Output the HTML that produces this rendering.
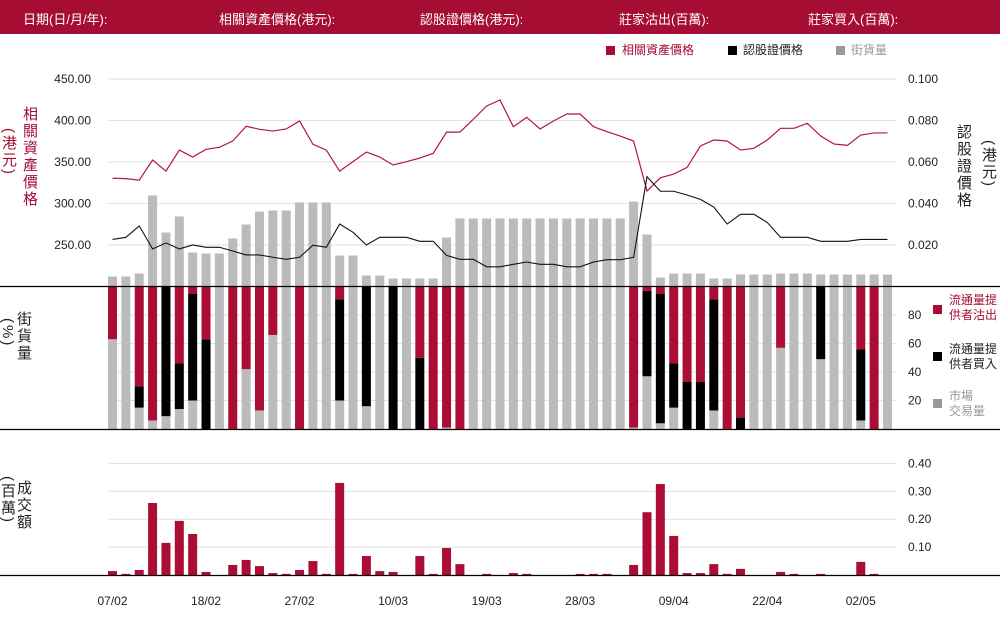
<!DOCTYPE html>
<html><head><meta charset="utf-8">
<style>
html,body{margin:0;padding:0;background:#fff;}
#wrap{position:relative;width:1000px;height:620px;overflow:hidden;font-family:"Liberation Sans","Noto Sans CJK TC",sans-serif;}
.hdr{position:absolute;left:0;top:0;width:1000px;height:34px;background:#a50d33;}
.ht{position:absolute;top:9px;color:#fff;font-size:13px;white-space:nowrap;}
.vt{position:absolute;writing-mode:vertical-rl;font-size:15px;line-height:18px;letter-spacing:2px;}
.lg{position:absolute;font-size:12px;line-height:15px;}
.sq{position:absolute;width:9px;height:9px;}
svg{position:absolute;left:0;top:0;}
</style></head>
<body>
<div id="wrap">
<div class="hdr">
<span class="ht" style="left:23px">日期(日/月/年):</span>
<span class="ht" style="left:219px">相關資產價格(港元):</span>
<span class="ht" style="left:420px">認股證價格(港元):</span>
<span class="ht" style="left:619px">莊家沽出(百萬):</span>
<span class="ht" style="left:808px">莊家買入(百萬):</span>
</div>
<div class="sq" style="left:606px;top:46px;background:#a50d33"></div>
<div class="lg" style="left:622px;top:43px;color:#a50d33">相關資產價格</div>
<div class="sq" style="left:728px;top:46px;background:#000"></div>
<div class="lg" style="left:743px;top:43px;color:#222">認股證價格</div>
<div class="sq" style="left:836px;top:46px;background:#999"></div>
<div class="lg" style="left:851px;top:43px;color:#999">街貨量</div>

<div class="vt" style="left:20px;top:106px;color:#a50d33">相關資產價格</div>
<div class="vt" style="left:-1px;top:128px;color:#a50d33">(港元)</div>
<div class="vt" style="left:14px;top:311px;color:#222">街貨量</div>
<div class="vt" style="left:-2px;top:318px;color:#222">(%)</div>
<div class="vt" style="left:14px;top:480px;color:#222">成交額</div>
<div class="vt" style="left:-2px;top:476px;color:#222">(百萬)</div>
<div class="vt" style="left:954px;top:124px;color:#222">認股證價格</div>
<div class="vt" style="left:979px;top:140px;color:#222">(港元)</div>

<div class="sq" style="left:933px;top:305px;background:#a50d33"></div>
<div class="lg" style="left:949px;top:293px;color:#a50d33">流通量提<br>供者沽出</div>
<div class="sq" style="left:933px;top:352px;background:#000"></div>
<div class="lg" style="left:949px;top:342px;color:#222">流通量提<br>供者買入</div>
<div class="sq" style="left:933px;top:399px;background:#999"></div>
<div class="lg" style="left:949px;top:389px;color:#999">市場<br>交易量</div>

<svg id="chart" width="1000" height="620"></svg>
</div>
<script>
const dates=["07/02","18/02","27/02","10/03","19/03","28/03","09/04","22/04","02/05"];
const dateIdx=[0,7,14,21,28,35,42,49,56];
const underlying=[330.4,330,328,352.4,339,364.4,356,365.3,367.7,375.3,393,389.4,387.3,389.8,399.4,371.3,364.4,339,350.4,362,356,346.4,350.4,354.8,360.4,386,386,401.4,417.5,424.7,392.5,403.8,389.8,399.4,407.8,407.8,392.5,386.5,381.3,375.3,315,331,335.5,343.5,369.3,376.5,375.3,364.4,366.5,376.5,390.6,390.6,396.6,381.3,371.7,370,382.5,385,385];
const warrant=[0.0227,0.0237,0.0292,0.0181,0.021,0.0181,0.020,0.0189,0.0189,0.0171,0.0152,0.0152,0.0141,0.0131,0.0141,0.0199,0.0189,0.0301,0.0261,0.020,0.0237,0.0237,0.0237,0.0218,0.0218,0.015,0.0131,0.0131,0.0095,0.0095,0.0107,0.0118,0.0107,0.0107,0.0095,0.0095,0.0118,0.0129,0.0129,0.0141,0.0529,0.0459,0.0459,0.0441,0.042,0.0383,0.0301,0.0348,0.0348,0.0309,0.0237,0.0237,0.0237,0.0218,0.0218,0.0218,0.0227,0.0227,0.0227];
const outstanding=[10,10,13,91,54,70,34,33,33,48,62,75,76,76,84,84,84,31,31,11,11,8,8,8,8,49,68,68,68,68,68,68,68,68,68,68,68,68,68,85,52,9,13,13,13,8,8,12,12,12,13,13,13,12,12,12,12,12,12];
const pctMarket=[63,100,15,6,9,14,20,0,100,0,42,13,66,100,0,100,100,20,100,16,100,0,100,0,0,1,0,100,100,100,100,100,100,100,100,100,100,100,100,1,37,4,15,0,0,13,0,0,100,100,57,100,100,49,100,100,6,0,100];
const pctBuy=[0,0,15,0,91,32,75,63,0,0,0,0,0,0,0,0,0,71,0,84,0,100,0,50,0,0,0,0,0,0,0,0,0,0,0,0,0,0,0,0,60,91,31,33,33,78,0,8,0,0,0,0,0,51,0,0,50,0,0];
const turnover=[0.014,0.004,0.018,0.258,0.115,0.194,0.147,0.011,0,0.036,0.054,0.032,0.007,0.004,0.018,0.05,0.004,0.33,0.004,0.068,0.014,0.011,0,0.068,0.004,0.097,0.039,0,0.004,0,0.007,0.004,0,0,0,0.004,0.004,0.004,0,0.036,0.225,0.326,0.14,0.007,0.007,0.039,0.004,0.022,0,0,0.011,0.004,0,0.004,0,0,0.047,0.004,0];
const leftTicks=[450,400,350,300,250];
const rightTicks=[0.1,0.08,0.06,0.04,0.02];
const pctTicks=[80,60,40,20];
const turnTicks=[0.4,0.3,0.2,0.1];

const NS="http://www.w3.org/2000/svg";
const svg=document.getElementById('chart');
function mk(tag,attrs,parent){const e=document.createElementNS(NS,tag);for(const k in attrs)e.setAttribute(k,attrs[k]);(parent||svg).appendChild(e);return e;}
const N=underlying.length;
const X0=112.5, STEP=(887.5-112.5)/(N-1), BW=9;
const xc=i=>X0+i*STEP;
const yL=v=>286.5-(v-200)*41.5/50;
const yR=v=>286.5-v*166/0.08;
const yV=v=>286.5-v;
const yP=v=>429-v*1.425;
const yT=v=>575-v*279;
const GX1=108, GX2=896;

// grids
leftTicks.forEach(t=>{
  const g=mk('line',{x1:GX1,x2:GX2,y1:yL(t),y2:yL(t),stroke:'#e2e2e2','stroke-width':1});
  
  const tx=mk('text',{x:91,y:yL(t)+4,'text-anchor':'end','font-size':12,fill:'#222'});
  tx.textContent=t.toFixed(2);
  
});
rightTicks.forEach(t=>{
  const tx=mk('text',{x:908,y:yR(t)+4,'font-size':12,fill:'#222'});
  tx.textContent=t.toFixed(3);
  
});
pctTicks.forEach(t=>{
  const g=mk('line',{x1:GX1,x2:GX2,y1:yP(t),y2:yP(t),stroke:'#e2e2e2','stroke-width':1});
  
  const tx=mk('text',{x:908,y:yP(t)+4,'font-size':12,fill:'#222'});
  tx.textContent=t;
  
});
turnTicks.forEach(t=>{
  const g=mk('line',{x1:GX1,x2:GX2,y1:yT(t),y2:yT(t),stroke:'#e2e2e2','stroke-width':1});
  
  const tx=mk('text',{x:908,y:yT(t)+4,'font-size':12,fill:'#222'});
  tx.textContent=t.toFixed(2);
  
});

for(let i=0;i<N;i++){
  const x=xc(i)-BW/2;
  const b=mk('rect',{x:x,y:yV(outstanding[i]),width:BW,height:outstanding[i],fill:'#bbb'});
  
  const m=pctMarket[i], k=pctBuy[i], r=Math.max(0,100-m-k);
  const g1=mk('rect',{x:x,y:yP(m),width:BW,height:m*1.425,fill:'#bbb'});
  
  const g2=mk('rect',{x:x,y:yP(m+k),width:BW,height:k*1.425,fill:'#000'});
  
  const g3=mk('rect',{x:x,y:yP(m+k+r),width:BW,height:r*1.425,fill:'#ab0d35'});
  
  const t=mk('rect',{x:x,y:yT(turnover[i]),width:BW,height:turnover[i]*279,fill:'#ab0d35'});
  
}
const pu=mk('polyline',{points:underlying.map((v,i)=>xc(i)+','+yL(v)).join(' '),fill:'none',stroke:'#b5163f','stroke-width':1.2});

const pw=mk('polyline',{points:warrant.map((v,i)=>xc(i)+','+yR(v)).join(' '),fill:'none',stroke:'#111','stroke-width':1.1});


[286.5,429.5,575.5].forEach(y=>{
  const l=mk('line',{x1:0,x2:1000,y1:y,y2:y,stroke:'#000','stroke-width':1.3});
  
});
dates.forEach((d,j)=>{
  const tx=mk('text',{x:xc(dateIdx[j]),y:605,'text-anchor':'middle','font-size':12,fill:'#222'});
  tx.textContent=d;
  
});
</script>
</body></html>
